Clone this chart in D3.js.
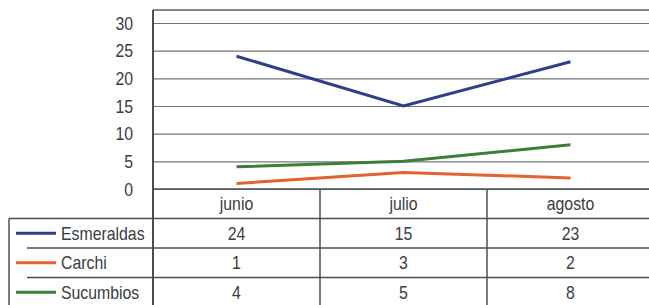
<!DOCTYPE html>
<html>
<head>
<meta charset="utf-8">
<script src="https://cdn.jsdelivr.net/npm/d3@7"></script>
<style>
  body { margin: 0; background: #fff; }
  text { font-family: "Liberation Sans", sans-serif; fill: #3a3d42; }
</style>
</head>
<body>
<script>
// months and series
var months = ["junio", "julio", "agosto"];
var seriesNames = ["Esmeraldas", "Carchi", "Sucumbios"];
var esmeraldas = [24, 15, 23];
var carchi = [1, 3, 2];
var sucumbios = [4, 5, 8];
var yTicks = [0, 5, 10, 15, 20, 25, 30];
var colors = ["#2b3f8c", "#e2632b", "#3f7d3b"];

var series = [esmeraldas, carchi, sucumbios];

var width = 649, height = 305;
var plotLeft = 153, plotRight = 654, plotTop = 10;
var tableTop = 189, rowH = 29.5, legendLeft = 9;
var squeeze = 0.88; // the original font is a condensed one

var svg = d3.select("body").append("svg")
  .attr("width", width)
  .attr("height", height)

var x = d3.scaleBand().domain(months).range([plotLeft, plotRight]);
var y = d3.scaleLinear().domain([0, 30]).range([189, 23]);

// condensed looking text
function label(px, py, txt, anchor) {
  svg.append("g")
    .attr("transform", "translate(" + px + "," + py + ") scale(" + squeeze + ",1)")
    .append("text")
    .attr("dy", "0.35em")
    .attr("text-anchor", anchor)
    .attr("font-size", 18)
    .text(txt);
}

// gridlines
svg.append("g")
  .attr("transform", "translate(" + plotLeft + ",0)")
  .call(d3.axisLeft(y).tickValues(yTicks).tickSize(-(plotRight - plotLeft)).tickFormat(""))
  .call(function (g) { g.select(".domain").remove(); })
  .selectAll("line")
  .attr("stroke", "#72767c")
  .attr("stroke-width", 1.2);

// y labels
svg.append("g")
  .attr("transform", "translate(" + 133 + ",0)")
  .call(d3.axisLeft(y).tickValues(yTicks).tickSize(0).tickPadding(0))
  .call(function (g) { g.select(".domain").remove(); })
  .selectAll("text")
  .attr("font-size", 18)
  .attr("dy", "0.35em")
  .attr("transform", "scale(" + squeeze + ",1)")
  .style("font-family", "'Liberation Sans', sans-serif")
  .attr("fill", "#3a3d42");

// plot frame
svg.append("line").attr("x1", plotLeft).attr("x2", plotRight).attr("y1", plotTop).attr("y2", plotTop)
  .attr("stroke", "#5a5e64").attr("stroke-width", 1.5);
svg.append("line").attr("x1", plotLeft).attr("x2", plotLeft).attr("y1", plotTop).attr("y2", height)
  .attr("stroke", "#4a4e54").attr("stroke-width", 2);

// data lines
var line = d3.line()
  .x(function (d, i) { return x(months[i]) + x.bandwidth() / 2; })
  .y(function (d) { return y(d); });

svg.selectAll(".serie")
  .data(series)
  .enter()
  .append("path")
  .attr("class", "serie")
  .attr("d", line)
  .attr("fill", "none")
  .attr("stroke", function (d, i) { return colors[i]; })
  .attr("stroke-width", 3);

// table
var tableLine = "#4a4e54";
svg.append("line").attr("x1", plotLeft).attr("x2", plotRight).attr("y1", tableTop).attr("y2", tableTop)
  .attr("stroke", tableLine).attr("stroke-width", 1.5);

months.forEach(function (m, i) {
  if (i > 0) {
    svg.append("line").attr("x1", x(m)).attr("x2", x(m)).attr("y1", tableTop).attr("y2", height)
      .attr("stroke", tableLine).attr("stroke-width", 1.5);
  }
  label(x(m) + x.bandwidth() / 2, tableTop + rowH / 2, m, "middle");
});

// legend column left edge
svg.append("line").attr("x1", legendLeft).attr("x2", legendLeft).attr("y1", tableTop + rowH).attr("y2", height)
  .attr("stroke", tableLine).attr("stroke-width", 1.5);

seriesNames.forEach(function (name, r) {
  var top = tableTop + rowH * (r + 1);
  var cy = top + rowH / 2;
  svg.append("line")
    .attr("x1", r == 0 ? legendLeft : 27).attr("x2", plotRight)
    .attr("y1", top).attr("y2", top)
    .attr("stroke", tableLine).attr("stroke-width", 1.5);
  svg.append("line")
    .attr("x1", 16).attr("x2", 56).attr("y1", cy).attr("y2", cy)
    .attr("stroke", colors[r]).attr("stroke-width", 3);
  label(61, cy, name, "start");
  series[r].forEach(function (v, i) {
    label(x(months[i]) + x.bandwidth() / 2, cy, v, "middle");
  });
});
</script>
</body>
</html>
